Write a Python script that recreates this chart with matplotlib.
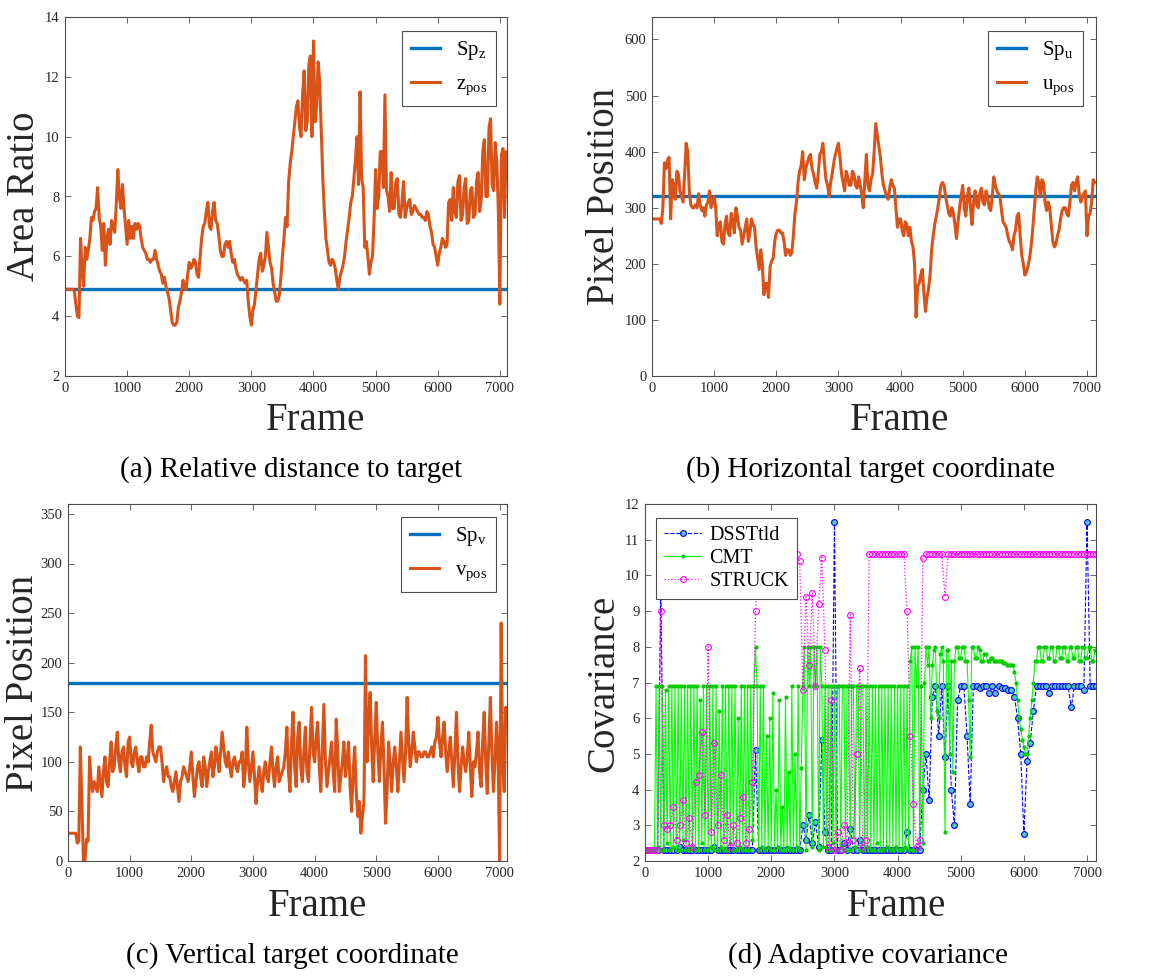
import matplotlib
matplotlib.use("Agg")
import matplotlib.pyplot as plt

plt.rcParams["font.family"] = ["Liberation Serif", "DejaVu Serif"]
plt.rcParams["mathtext.fontset"] = "custom"
plt.rcParams["mathtext.rm"] = "Liberation Serif"
plt.rcParams["mathtext.it"] = "Liberation Serif:italic"

# frame samples: fine grid for the position traces and CMT, coarse for the markers
frames_fine = list(range(0, 7126, 25))
frames_coarse = list(range(0, 7101, 50)) + [7140]

sp_z = 4.9
z_pos = [
    4.9, 4.9, 4.9, 4.9, 4.9, 4.9, 4.85, 4.4, 4.0, 3.95,
    6.6, 5.6, 5.0, 6.3, 5.9, 6.2, 6.6, 7.3, 7.2, 7.5,
    7.6, 8.3, 7.3, 7.0, 6.2, 7.1, 5.7, 6.6, 6.9, 6.4,
    7.2, 7.0, 6.8, 7.7, 8.9, 8.0, 7.6, 8.4, 7.6, 7.0,
    6.4, 7.2, 6.6, 7.0, 6.6, 7.1, 6.9, 7.1, 7.0, 6.6,
    6.3, 6.2, 6.1, 5.9, 5.9, 5.8, 5.9, 5.9, 6.2, 5.9,
    5.7, 5.5, 5.4, 5.1, 5.3, 5.0, 4.8, 4.6, 4.2, 3.8,
    3.7, 3.7, 3.8, 4.3, 4.5, 4.8, 5.2, 5.0, 4.9, 5.4,
    5.8, 5.6, 5.7, 5.9, 5.8, 5.4, 5.3, 6.0, 6.6, 7.0,
    7.1, 7.5, 7.8, 7.0, 6.9, 7.5, 7.8, 7.2, 7.1, 6.7,
    6.2, 6.0, 6.0, 6.4, 6.5, 6.3, 6.5, 6.1, 5.8, 5.9,
    5.6, 5.4, 5.3, 5.2, 5.3, 5.2, 5.1, 5.2, 4.5, 4.0,
    3.7, 4.2, 4.4, 4.9, 5.4, 5.9, 6.1, 5.5, 5.7, 6.0,
    6.8, 6.3, 5.8, 5.6, 5.1, 4.8, 4.5, 4.5, 4.7, 5.3,
    6.0, 6.6, 7.3, 7.0, 8.5, 9.1, 9.5, 10.0, 10.5, 11.0,
    11.2, 10.3, 10.0, 11.4, 12.2, 10.2, 10.5, 12.4, 12.7, 10.0,
    13.2, 10.5, 11.0, 12.5, 11.8, 10.2, 8.6, 7.5, 6.6, 6.2,
    5.8, 5.7, 5.9, 5.8, 5.6, 5.2, 4.9, 5.3, 5.5, 5.7,
    6.0, 6.5, 6.9, 7.3, 7.8, 8.0, 8.6, 9.2, 10.0, 8.4,
    11.5, 8.6, 8.3, 6.3, 6.5, 6.0, 5.4, 5.8, 6.0, 7.2,
    8.9, 7.6, 8.0, 9.5, 9.5, 8.3, 11.4, 8.2, 8.0, 7.5,
    8.8, 7.6, 7.6, 8.5, 8.6, 7.4, 7.3, 7.8, 8.5, 7.3,
    7.6, 7.8, 7.9, 7.4, 7.5, 7.7, 7.6, 7.5, 7.4, 7.4,
    7.3, 7.3, 7.2, 7.5, 7.4, 7.0, 6.8, 6.4, 6.3, 6.0,
    5.7, 6.1, 6.3, 6.6, 6.5, 6.3, 6.4, 7.8, 7.9, 7.2,
    8.3, 7.5, 7.3, 8.5, 8.7, 7.2, 7.4, 8.3, 8.6, 7.1,
    7.2, 8.2, 8.3, 7.3, 7.4, 8.5, 8.8, 7.5, 7.9, 9.5,
    9.9, 8.0, 8.0, 10.3, 10.6, 8.4, 8.2, 9.8, 9.2, 7.6,
    4.4, 9.4, 9.6, 7.3, 9.5, 8.9]

sp_u = 320
u_pos = [
    280, 280, 280, 280, 280, 280, 272, 300, 380, 370,
    385, 390, 280, 350, 340, 315, 365, 360, 330, 320,
    310, 360, 415, 400, 330, 305, 300, 300, 305, 300,
    325, 305, 295, 300, 285, 305, 310, 330, 300, 310,
    320, 300, 250, 270, 275, 240, 235, 270, 285, 255,
    250, 290, 275, 255, 300, 285, 265, 260, 235, 250,
    265, 280, 240, 255, 280, 270, 265, 230, 210, 190,
    225, 200, 145, 165, 165, 140, 195, 205, 210, 240,
    255, 260, 260, 255, 255, 240, 215, 225, 225, 215,
    220, 250, 290, 310, 345, 365, 375, 400, 350, 370,
    380, 390, 395, 370, 360, 345, 335, 360, 395, 400,
    415, 380, 350, 340, 320, 345, 360, 380, 395, 405,
    415, 390, 360, 345, 330, 365, 355, 340, 340, 365,
    360, 340, 335, 355, 340, 325, 300, 350, 395, 340,
    330, 350, 360, 400, 450, 430, 410, 390, 360, 340,
    330, 320, 315, 335, 350, 340, 335, 300, 265, 280,
    280, 260, 250, 275, 270, 250, 265, 240, 230, 200,
    105, 160, 165, 180, 190, 150, 115, 140, 155, 180,
    225, 250, 270, 285, 300, 320, 340, 345, 340, 320,
    305, 290, 285, 300, 290, 270, 245, 275, 300, 320,
    340, 300, 285, 320, 335, 300, 270, 310, 330, 305,
    300, 325, 335, 310, 305, 330, 320, 300, 295, 320,
    355, 340, 330, 325, 320, 295, 275, 270, 265, 250,
    240, 235, 225, 250, 260, 285, 290, 250, 215, 200,
    180, 185, 195, 210, 230, 260, 295, 330, 355, 345,
    320, 350, 345, 310, 295, 310, 300, 270, 240, 230,
    235, 250, 260, 280, 295, 300, 300, 290, 285, 310,
    340, 345, 330, 345, 355, 325, 310, 320, 325, 330,
    250, 285, 290, 310, 350, 345]

sp_v = 180
v_pos = [
    28, 28, 28, 28, 28, 28, 18, 20, 115, 60,
    0, 0, 22, 20, 105, 80, 70, 80, 75, 70,
    95, 80, 65, 90, 105, 80, 75, 100, 120, 90,
    95, 115, 130, 100, 90, 110, 115, 95, 85, 120,
    125, 100, 95, 110, 115, 100, 90, 105, 105, 95,
    95, 105, 100, 120, 137, 110, 105, 100, 110, 115,
    115, 100, 80, 90, 95, 85, 85, 75, 70, 80,
    90, 75, 60, 80, 85, 95, 90, 85, 80, 95,
    110, 85, 65, 80, 95, 100, 85, 75, 105, 95,
    75, 90, 100, 110, 85, 95, 115, 105, 90, 110,
    130, 115, 100, 95, 110, 95, 85, 100, 105, 95,
    90, 100, 100, 110, 75, 90, 135, 100, 80, 95,
    110, 85, 58, 80, 95, 80, 70, 90, 100, 85,
    80, 100, 115, 90, 75, 95, 105, 80, 85, 90,
    95, 110, 135, 90, 70, 120, 150, 95, 75, 125,
    140, 95, 80, 110, 135, 90, 80, 120, 155, 110,
    100, 125, 140, 95, 70, 115, 158, 100, 75, 90,
    105, 120, 90, 70, 143, 110, 70, 85, 100, 120,
    85, 100, 120, 75, 50, 90, 115, 70, 45, 60,
    28, 45, 60, 207, 100, 140, 170, 115, 80, 125,
    160, 110, 80, 115, 140, 95, 38, 70, 120, 95,
    70, 100, 115, 95, 70, 100, 130, 105, 80, 110,
    165, 120, 95, 110, 130, 115, 100, 110, 110, 105,
    105, 110, 110, 105, 105, 110, 115, 105, 120, 125,
    145, 120, 105, 125, 140, 110, 90, 110, 125, 100,
    75, 110, 150, 100, 70, 95, 115, 100, 90, 105,
    130, 95, 65, 100, 95, 110, 130, 90, 75, 120,
    150, 100, 68, 120, 165, 110, 70, 100, 140, 110,
    0, 240, 100, 70, 155, 140]

cmt = [
    2.3, 2.3, 2.3, 2.3, 2.3, 2.3, 2.3, 6.9, 2.4, 6.9,
    2.3, 6.9, 2.3, 6.8, 2.5, 6.9, 2.3, 6.9, 2.4, 6.9,
    2.3, 6.9, 2.3, 6.9, 2.6, 6.9, 2.3, 6.9, 2.3, 6.9,
    2.4, 6.9, 2.3, 6.9, 2.3, 6.5, 2.5, 6.9, 2.3, 6.9,
    2.3, 6.9, 2.4, 6.9, 2.3, 6.9, 2.3, 6.2, 2.4, 6.9,
    2.3, 6.9, 2.3, 6.9, 2.5, 6.9, 2.3, 6.9, 2.3, 6.0,
    2.4, 6.9, 2.3, 6.9, 2.3, 6.9, 2.3, 6.9, 2.6, 6.9,
    8.0, 6.9, 2.3, 6.9, 2.4, 6.9, 2.3, 5.5, 2.4, 6.0,
    2.3, 6.7, 2.3, 4.0, 2.4, 6.5, 2.3, 3.5, 2.3, 6.6,
    2.4, 4.5, 2.3, 6.9, 2.3, 5.0, 2.4, 6.9, 2.3, 4.6,
    6.9, 8.0, 2.3, 8.0, 6.9, 8.0, 2.4, 8.0, 6.9, 8.0,
    2.3, 8.0, 6.9, 2.4, 6.9, 2.3, 6.9, 2.3, 6.9, 2.5,
    6.9, 2.3, 6.9, 6.9, 2.4, 6.9, 6.9, 2.3, 6.9, 6.9,
    2.3, 6.9, 6.9, 2.4, 6.9, 6.9, 2.3, 6.9, 6.9, 2.3,
    6.9, 2.4, 6.9, 2.3, 6.9, 2.3, 6.9, 2.5, 6.9, 2.3,
    6.9, 2.3, 6.9, 2.4, 6.9, 2.3, 6.9, 2.3, 6.9, 2.4,
    6.9, 2.3, 6.9, 2.3, 6.9, 2.4, 6.9, 2.3, 7.6, 8.0,
    2.3, 8.0, 6.9, 8.0, 2.4, 6.9, 2.5, 7.0, 8.0, 7.5,
    8.0, 6.0, 7.5, 7.9, 8.0, 6.2, 6.0, 7.8, 8.0, 7.6,
    2.8, 7.9, 7.9, 5.0, 7.6, 4.5, 7.6, 8.0, 8.0, 7.7,
    7.7, 8.0, 8.0, 7.6, 7.6, 6.5, 4.9, 8.0, 8.0, 7.7,
    7.7, 8.0, 7.9, 7.6, 7.6, 7.8, 7.8, 7.6, 7.6, 7.7,
    7.7, 7.6, 7.6, 7.6, 7.6, 7.6, 7.6, 7.55, 7.55, 7.5,
    7.5, 7.5, 7.5, 7.5, 7.3, 7.0, 6.5, 6.0, 5.7, 5.4,
    5.2, 5.0, 5.0, 5.5, 6.0, 6.5, 7.0, 7.6, 7.6, 8.0,
    8.0, 7.6, 7.6, 8.0, 8.0, 7.7, 7.7, 8.0, 8.0, 7.6,
    7.6, 8.0, 8.0, 7.7, 7.7, 8.0, 8.0, 7.6, 7.6, 8.0,
    8.0, 7.7, 7.7, 8.0, 8.0, 7.6, 7.6, 8.0, 8.0, 7.7,
    7.7, 8.0, 8.0, 7.6, 7.6, 7.9]

dsst = [
    2.3, 2.3, 2.3, 2.3, 2.3, 9.8, 2.3, 2.3, 2.3, 2.3,
    2.3, 2.4, 2.3, 2.3, 2.3, 2.3, 2.3, 2.3, 2.3, 2.3,
    2.3, 2.3, 2.4, 2.3, 2.3, 2.3, 2.3, 2.3, 2.3, 2.3,
    2.3, 2.3, 2.3, 2.3, 2.3, 5.1, 2.3, 2.3, 2.3, 2.3,
    2.3, 2.3, 2.3, 2.3, 2.3, 2.3, 2.3, 2.3, 2.3, 2.3,
    3.0, 2.6, 3.3, 2.5, 3.1, 2.4, 5.4, 2.8, 2.3, 2.3,
    11.5, 2.3, 2.3, 2.5, 2.3, 2.9, 2.3, 2.3, 2.6, 2.3,
    2.3, 2.3, 2.3, 2.3, 2.3, 2.3, 2.3, 2.3, 2.3, 2.3,
    2.3, 2.3, 2.3, 2.8, 2.3, 2.3, 2.3, 2.3, 4.0, 5.0,
    3.7, 6.6, 6.9, 5.5, 6.9, 4.9, 6.9, 4.0, 3.0, 6.5,
    6.9, 6.9, 5.5, 3.6, 6.9, 6.9, 6.85, 6.9, 6.9, 6.7,
    6.9, 6.7, 6.9, 6.85, 6.85, 6.8, 6.8, 6.6, 6.0, 5.0,
    2.75, 4.8, 5.3, 6.2, 6.9, 6.9, 6.9, 6.9, 6.7, 6.9,
    6.9, 6.9, 6.9, 6.9, 6.9, 6.3, 6.9, 6.9, 6.9, 6.8,
    11.5, 6.9, 6.9, 6.9]

struck = [
    2.3, 2.3, 2.3, 2.3, 2.3, 9.0, 3.0, 2.9, 3.0, 3.5,
    2.6, 3.0, 3.7, 2.5, 3.2, 2.4, 4.2, 4.4, 5.6, 3.3,
    8.0, 2.8, 5.3, 3.0, 4.4, 2.6, 3.3, 2.4, 3.0, 2.5,
    3.2, 3.8, 2.5, 2.9, 4.2, 9.0, 10.6, 10.6, 10.6, 10.6,
    10.6, 10.6, 10.6, 10.6, 10.6, 10.6, 10.6, 10.6, 10.6, 10.4,
    6.8, 9.4, 7.5, 9.5, 6.9, 9.2, 10.5, 7.9, 2.4, 6.5,
    2.3, 2.8, 2.3, 3.0, 2.5, 8.9, 2.6, 5.0, 7.4, 2.4,
    2.6, 10.6, 10.6, 10.6, 10.6, 10.6, 10.6, 10.6, 10.6, 10.6,
    10.6, 10.6, 10.6, 9.0, 5.5, 3.6, 2.4, 2.6, 10.5, 10.6,
    10.6, 10.6, 10.6, 10.6, 10.6, 9.4, 10.6, 10.6, 10.6, 10.6,
    10.6, 10.6, 10.6, 10.6, 10.6, 10.6, 10.6, 10.6, 10.6, 10.6,
    10.6, 10.6, 10.6, 10.6, 10.6, 10.6, 10.6, 10.6, 10.6, 10.6,
    10.6, 10.6, 10.6, 10.6, 10.6, 10.6, 10.6, 10.6, 10.6, 10.6,
    10.6, 10.6, 10.6, 10.6, 10.6, 10.6, 10.6, 10.6, 10.6, 10.6,
    10.6, 10.6, 10.6, 10.6]

W, H = 1153, 977
fig = plt.figure(figsize=(W / 100, H / 100), dpi=100)


def add_axes(left, right, top, bottom):
    return fig.add_axes([left / W, 1 - bottom / H, (right - left) / W, (bottom - top) / H])


def style(ax):
    for s in ax.spines.values():
        s.set_color("#4d4d4d")
        s.set_linewidth(0.8)
    ax.tick_params(direction="in", top=True, right=True, length=4,
                   width=0.6, color="#4d4d4d", labelcolor="#262626",
                   labelsize=10.5, pad=4)


BLUE = "#0072BD"
ORANGE = "#D95319"

ax_a = add_axes(65, 507, 17, 376)
ax_b = add_axes(652, 1096, 17, 376)
ax_c = add_axes(68, 507, 504, 861)
ax_d = add_axes(645, 1096, 504, 861)

panels = [
    (ax_a, sp_z, z_pos, (2, 14), range(2, 15, 2), "z", 7115, (0.975, 0.961)),
    (ax_b, sp_u, u_pos, (0, 640), range(0, 601, 100), "u", 7145, (0.971, 0.961)),
    (ax_c, sp_v, v_pos, (0, 360), range(0, 351, 50), "v", 7120, (0.975, 0.964)),
]
for ax, sp, series, ylim, yt, sym, xmax, anchor in panels:
    ax.plot([0, 7140], [sp, sp], color=BLUE, lw=2.4, label="Sp$_{\\mathrm{%s}}$" % sym)
    ax.plot(frames_fine, series, color=ORANGE, lw=2.2, label="%s$_{\\mathrm{pos}}$" % sym)
    ax.set_xlim(0, xmax)
    ax.set_ylim(*ylim)
    ax.set_xticks(range(0, 7001, 1000))
    ax.set_yticks(list(yt))
    style(ax)
    leg = ax.legend(loc="upper right", fontsize=15, handlelength=1.4,
                    handletextpad=0.8, labelspacing=0.6, borderpad=0.4,
                    borderaxespad=0, fancybox=False, framealpha=1,
                    edgecolor="#4d4d4d", bbox_to_anchor=anchor)
    leg.get_frame().set_linewidth(0.8)

# adaptive covariance of the three trackers
ax_d.plot(frames_coarse, dsst, color="#0000ff", ls="--", lw=0.8, marker="o", ms=4.2,
          mec="#0000ff", mfc="#55c8b8", mew=0.8, label="DSSTtld")
ax_d.plot(frames_fine, cmt, color="#00ff00", ls="-", lw=0.8, marker=".", ms=4,
          mec="#00cc00", mfc="#00cc00", label="CMT")
ax_d.plot(frames_coarse, struck, color="#ff00ff", ls=":", lw=0.9, marker="o", ms=4.2,
          mec="#ff00ff", mfc="none", mew=0.8, label="STRUCK")
ax_d.set_xlim(0, 7142)
ax_d.set_ylim(2, 12)
ax_d.set_xticks(range(0, 7001, 1000))
ax_d.set_yticks(range(2, 13))
style(ax_d)
leg = ax_d.legend(loc="upper left", fontsize=14.5, handlelength=1.85,
                  labelspacing=0.2, borderpad=0.4, handletextpad=0.4,
                  borderaxespad=0, fancybox=False, framealpha=1,
                  edgecolor="#4d4d4d", bbox_to_anchor=(0.024, 0.961))
leg.get_frame().set_linewidth(0.8)

# axis titles and sub-figure captions
ylabels = [("Area Ratio", 24, 196), ("Pixel Position", 605, 196),
           ("Pixel Position", 24, 683), ("Covariance", 604, 683)]
for txt, x, y in ylabels:
    fig.text(x / W, 1 - y / H, txt, rotation=90, ha="center", va="center",
             fontsize=28, color="#262626")

for x, y in [(316, 420), (900, 420), (318, 907), (897, 907)]:
    fig.text(x / W, 1 - y / H, "Frame", ha="center", va="center",
             fontsize=28, color="#262626")

captions = [("(a) Relative distance to target", 291, 470),
            ("(b) Horizontal target coordinate", 871, 470),
            ("(c) Vertical target coordinate", 292, 956),
            ("(d) Adaptive covariance", 868, 956)]
for txt, x, y in captions:
    fig.text(x / W, 1 - y / H, txt, ha="center", va="center",
             fontsize=21, color="black")

fig.savefig("out.png", dpi=100)
